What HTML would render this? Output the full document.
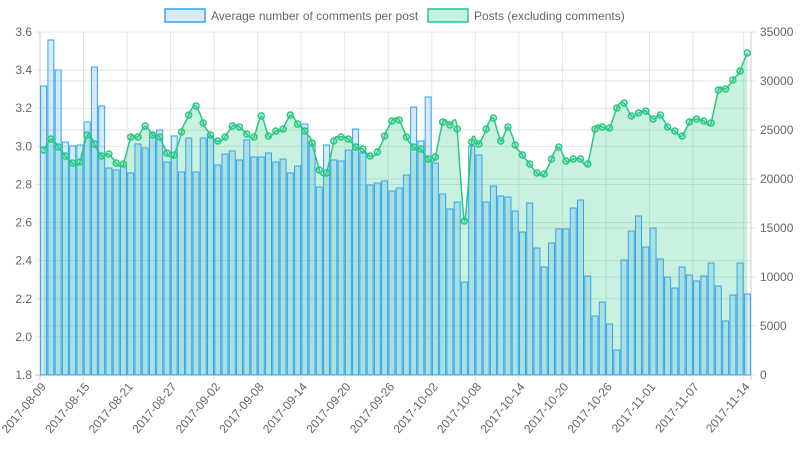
<!DOCTYPE html>
<html><head><meta charset="utf-8"><style>
html,body{margin:0;padding:0;background:#fff;width:800px;height:450px;overflow:hidden}
svg{display:block;font-family:"Liberation Sans",sans-serif}
</style></head><body>
<svg id="c" width="800" height="450" xmlns="http://www.w3.org/2000/svg">
<rect x="165" y="9" width="40" height="13" fill="rgba(54,162,235,0.2)" stroke="#36a2eb" stroke-width="1.5"/>
<text x="211" y="20" font-size="12" fill="#666">Average number of comments per post</text>
<rect x="428" y="9" width="40" height="13" fill="rgba(38,201,128,0.25)" stroke="#26c980" stroke-width="1.5"/>
<text x="474" y="20" font-size="12" fill="#666">Posts (excluding comments)</text>
</svg>
<script>
var NS="http://www.w3.org/2000/svg",s=document.getElementById('c');
function el(t,a,txt){var e=document.createElementNS(NS,t);for(var k in a)e.setAttribute(k,a[k]);if(txt!=null)e.textContent=txt;s.appendChild(e);return e;}
var bars=[86,40,70,142,146,145,122,67,106,168,170,166,173,144,148,133,130,162,136,172,138,172,138,136,165,154,151,160,140,157,157,153,162,159,173,166,124,145,187,145,160,161,150,129,153,185,183,181,191,188,175,107,141,97,163,194,209,202,282,146,155,202,186,196,197,211,232,203,248,267,243,229,229,208,200,276,316,302,324,350,260,231,216,247,228,259,277,288,267,275,281,276,263,286,321,295,263,294];
var pts=[150,139,147,156,163,162,135,144,156,154,163,164,137,137,126,135,137,153,155,132,115,106,123,135,141,137,126,127,134,137,116,136,131,129,115,124,131,143,170,173,141,137,139,147,149,156,152,136,121,120,137,147,149,159,157,122,125,129,221,142,144,129,118,141,127,145,155,164,173,174,159,147,161,159,159,164,129,127,128,108,103,116,113,111,119,115,127,131,136,122,119,121,123,90,89,80,71,53];
var L=40,R=751,T=32,B=375,n=98,dx=(R-L)/n;
function X(i){return L+dx*(i+0.5);}
for(var k=0;k<=9;k++){var y=B-k*(B-T)/9;el('line',{x1:L-5,x2:R,y1:y,y2:y,stroke:k==0?'#bbb':'#e4e4e4'});el('text',{x:32,y:y+4,'font-size':12,fill:'#666','text-anchor':'end'},(1.8+0.2*k).toFixed(1));}
for(var k=0;k<=7;k++){var y=B-k*(B-T)/7;el('line',{x1:L,x2:R+5,y1:y,y2:y,stroke:'#e4e4e4'});el('text',{x:760,y:y+4,'font-size':12,fill:'#666'},String(k*5000));}
el('line',{x1:L,x2:L,y1:T,y2:B+5,stroke:'#ccc'});
el('line',{x1:R,x2:R,y1:T,y2:B+5,stroke:'#ccc'});
var d0=new Date(2017,7,9,12);
var idx=[0,6,12,18,24,30,36,42,48,54,60,66,72,78,84,90,97];
idx.forEach(function(i){var gx=L+dx*i;if(i>0)el('line',{x1:gx,x2:gx,y1:T,y2:B+5,stroke:'#e4e4e4'});
var d=new Date(d0.getTime()+i*864e5);var lab=d.getFullYear()+'-'+('0'+(d.getMonth()+1)).slice(-2)+'-'+('0'+d.getDate()).slice(-2);
var cx=X(i);el('text',{x:cx+3,y:B+12,'font-size':12,fill:'#666','text-anchor':'end',transform:'rotate(-50 '+(cx+3)+' '+(B+12)+')'},lab);});
function path(p){var d='M'+X(0)+','+p[0];for(var i=0;i<p.length-1;i++){var p0=p[Math.max(0,i-1)],p3=p[Math.min(p.length-1,i+2)];var x1=X(i)+dx*0.2,y1=p[i]+(p[i+1]-p0)*0.2,x2=X(i+1)-dx*0.2,y2=p[i+1]-(p3-p[i])*0.2;d+=' C'+x1+','+y1+' '+x2+','+y2+' '+X(i+1)+','+p[i+1];}return d;}
var pd=path(pts);
el('path',{d:pd+' L'+X(n-1)+','+B+' L'+X(0)+','+B+' Z',fill:'rgba(38,201,128,0.25)'});
for(var i=0;i<n;i++){var x=X(i)-3;el('rect',{x:x,y:bars[i],width:6,height:B-bars[i],fill:'rgba(54,162,235,0.22)',stroke:'#36a2eb','stroke-width':1});}
el('path',{d:pd,fill:'none',stroke:'#26c980','stroke-width':1.5});
for(var i=0;i<n;i++)el('circle',{cx:X(i),cy:pts[i],r:3,fill:'rgba(38,201,128,0.25)',stroke:'#26c980','stroke-width':1.5});
</script>
</body></html>
